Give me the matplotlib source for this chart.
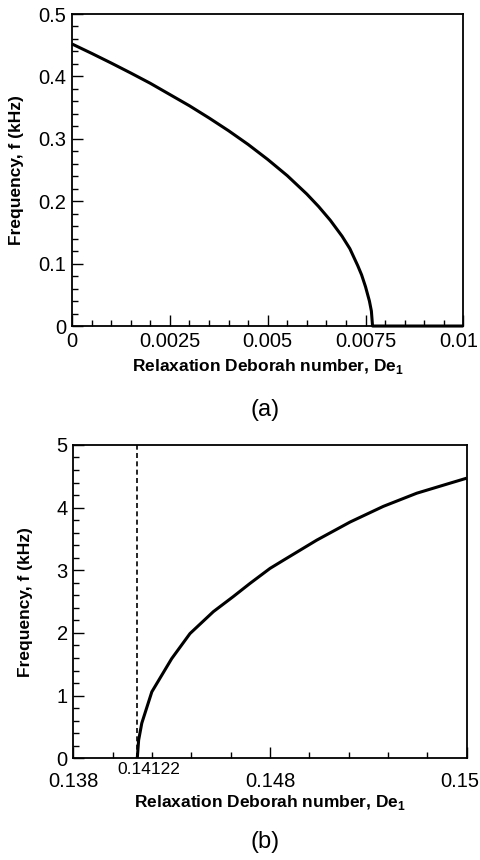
import matplotlib
matplotlib.use("Agg")
import matplotlib.pyplot as plt
from matplotlib.ticker import MultipleLocator, FixedLocator
from matplotlib.transforms import ScaledTranslation

plt.rcParams['font.family'] = ['Liberation Sans', 'DejaVu Sans']
plt.rcParams['mathtext.fontset'] = 'custom'
plt.rcParams['mathtext.rm'] = 'Liberation Sans'
plt.rcParams['mathtext.bf'] = 'Liberation Sans:bold'

# Panel (a) data
de_a = [0, 0.0005, 0.001, 0.0015, 0.002, 0.0025, 0.003, 0.0035, 0.004, 0.0045,
        0.005, 0.0055, 0.006, 0.0063, 0.0066, 0.0069, 0.0071, 0.0073, 0.0074,
        0.0075, 0.0076, 0.00765, 0.00768, 0.01]
f_a = [0.452, 0.437, 0.4215, 0.4055, 0.389, 0.371, 0.353, 0.3335, 0.313, 0.291,
       0.267, 0.241, 0.2115, 0.1916, 0.1695, 0.144, 0.124, 0.097, 0.082,
       0.063, 0.040, 0.024, 0.0, 0.0]

# Panel (b) data
de_b = [0.14125, 0.14132, 0.14148, 0.14199, 0.1430, 0.14393, 0.14512, 0.14613,
        0.14698, 0.148, 0.14868, 0.15037, 0.15207, 0.15376, 0.15546, 0.15715, 0.158]
f_b = [0.0, 0.29, 0.56, 1.06, 1.59, 1.99, 2.34, 2.58,
       2.79, 3.03, 3.16, 3.48, 3.77, 4.02, 4.23, 4.39, 4.47]
de_crit = 0.14122
de_crit_label = "0.14122"

xticks_a = [0, 0.0025, 0.005, 0.0075, 0.01]
xticklabels_a = ["0", "0.0025", "0.005", "0.0075", "0.01"]
yticks_a = [0, 0.1, 0.2, 0.3, 0.4, 0.5]
yticklabels_a = ["0", "0.1", "0.2", "0.3", "0.4", "0.5"]

xticks_b = [0.138, 0.148, 0.158]
xticklabels_b = ["0.138", "0.148", "0.15"]
yticks_b = [0, 1, 2, 3, 4, 5]
yticklabels_b = ["0", "1", "2", "3", "4", "5"]

xlabel = r"Relaxation Deborah number, De$_{\mathbf{1}}$"
ylabel = "Frequency, f (kHz)"

fig = plt.figure(figsize=(4.8, 8.6), dpi=100)
ax1 = fig.add_axes([0.150, 0.6209, 0.8153, 0.3628])
ax2 = fig.add_axes([0.1528, 0.1183, 0.8195, 0.3643])

TICK_FS = 14.5
LABEL_FS = 12.5

def style(ax):
    for s in ax.spines.values():
        s.set_linewidth(1.3)
        s.set_color('black')
    ax.tick_params(which='both', direction='in', top=False, right=False,
                   labelsize=TICK_FS, width=1.0, color='black')
    ax.tick_params(which='major', length=8)
    ax.tick_params(which='minor', length=4.5)

# Panel (a)
ax1.plot(de_a, f_a, color='black', lw=2.2, solid_capstyle='butt', clip_on=False, zorder=3)
ax1.set_xlim(0, 0.01)
ax1.set_ylim(0, 0.5)
ax1.xaxis.set_major_locator(FixedLocator(xticks_a))
ax1.set_xticklabels(xticklabels_a)
ax1.yaxis.set_major_locator(FixedLocator(yticks_a))
ax1.set_yticklabels(yticklabels_a)
ax1.xaxis.set_minor_locator(MultipleLocator(0.0005))
ax1.yaxis.set_minor_locator(MultipleLocator(0.02))
style(ax1)
ax1.tick_params(axis='x', pad=4)
ax1.tick_params(axis='y', pad=4)
last_a = ax1.get_xticklabels()[-1]
last_a.set_transform(last_a.get_transform() + ScaledTranslation(-0.05, 0, fig.dpi_scale_trans))
ax1.set_xlabel(xlabel, fontsize=LABEL_FS, fontweight='bold')
ax1.xaxis.label.set_va('center')
ax1.xaxis.set_label_coords(0.5, -0.131)
ax1.set_ylabel(ylabel, fontsize=LABEL_FS, fontweight='bold')
ax1.yaxis.label.set_va('center')
ax1.yaxis.set_label_coords(-0.1406, 0.5)
fig.text(0.552, 1 - 410 / 860, "(a)", ha='center', va='center', fontsize=17)

# Panel (b)
ax2.plot(de_b, f_b, color='black', lw=2.2, solid_capstyle='butt', zorder=3)
ax2.axvline(de_crit, color='black', lw=1.2, ls=(0, (3, 2)), zorder=2)
ax2.set_xlim(0.138, 0.158)
ax2.set_ylim(0, 5)
ax2.xaxis.set_major_locator(FixedLocator(xticks_b))
ax2.set_xticklabels(xticklabels_b)
ax2.yaxis.set_major_locator(FixedLocator(yticks_b))
ax2.set_yticklabels(yticklabels_b)
ax2.xaxis.set_minor_locator(MultipleLocator(0.002))
ax2.yaxis.set_minor_locator(MultipleLocator(0.2))
style(ax2)
ax2.tick_params(axis='x', pad=10)
ax2.tick_params(axis='y', pad=4)
last = ax2.get_xticklabels()[-1]
last.set_transform(last.get_transform() + ScaledTranslation(-0.07, 0, fig.dpi_scale_trans))
ax2.text(de_crit + 0.00063, -0.012, de_crit_label, transform=ax2.get_xaxis_transform(),
         ha='center', va='top', fontsize=12.5)
ax2.set_xlabel(xlabel, fontsize=LABEL_FS, fontweight='bold')
ax2.xaxis.label.set_va('center')
ax2.xaxis.set_label_coords(0.5, -0.1427)
ax2.set_ylabel(ylabel, fontsize=LABEL_FS, fontweight='bold')
ax2.yaxis.label.set_va('center')
ax2.yaxis.set_label_coords(-0.1228, 0.5)
fig.text(0.552, 1 - 842 / 860, "(b)", ha='center', va='center', fontsize=17)

fig.savefig("out.png", dpi=100)
